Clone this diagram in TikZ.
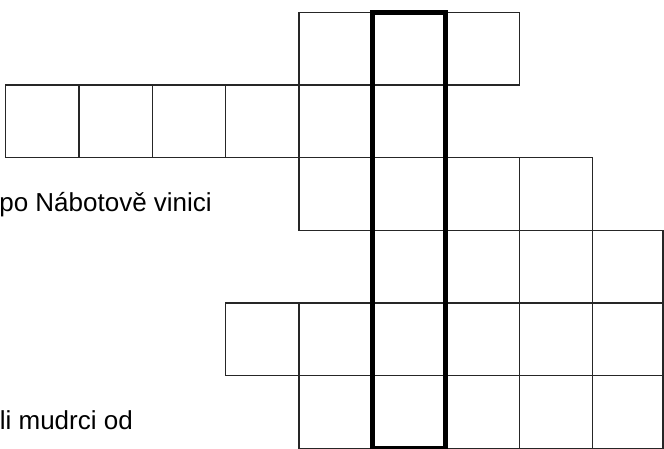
\documentclass[tikz,border=0pt]{standalone}
\usepackage{fontspec}
\setmainfont{Liberation Sans}
\begin{document}
\begin{tikzpicture}[x=1pt,y=-1pt,
  cellbox/.style={draw=black!85, line width=1.3pt},
  thickcol/.style={draw=black, line width=5pt},
  cluetext/.style={font=\fontsize{26}{30}\selectfont, anchor=base east, inner sep=0pt}]
\useasboundingbox (0,0) rectangle (664,449);
\clip (0,0) rectangle (664,449);
\fill[white] (0,0) rectangle (664,449);
\foreach \r/\a/\b in {0/4/6,1/0/5,2/4/7,3/5/8,4/3/8,5/4/8}{
  \foreach \c in {\a,...,\b}{
    \pgfmathsetmacro\xl{5.5+73.4*\c}
    \pgfmathsetmacro\xr{min(5.5+73.4*(\c+1),663)}
    \pgfmathsetmacro\yt{12.3+72.7*\r}
    \pgfmathsetmacro\yb{12.3+72.7*(\r+1)}
    \draw[cellbox] (\xl,\yt) rectangle (\xr,\yb);
  }
}
\draw[thickcol] (372.5,12.3) rectangle (445.9,448);
\node[cluetext] (t1) at (212,212) {po Nábotově vinici};
\node[cluetext] (t2) at (133,429) {li mudrci od};
\end{tikzpicture}
\end{document}
